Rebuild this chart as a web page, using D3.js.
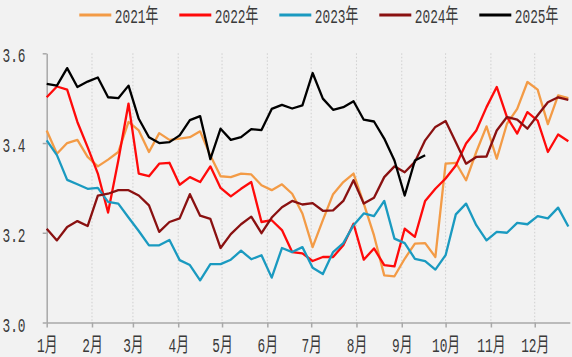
<!DOCTYPE html>
<html><head><meta charset="utf-8">
<script src="https://cdn.jsdelivr.net/npm/d3@7/dist/d3.min.js"></script>
<style>html,body{margin:0;padding:0;background:#f2f2f2;}svg{display:block;}</style>
</head><body>
<svg id="chart" width="572" height="357"></svg>
<script>
const seriesNames = ["2021年","2022年","2023年","2024年","2025年"];
const seriesColors = ["#F39B46","#FF0A0A","#1A9AC0","#8A1111","#000000"];
const monthLabels = ["1月","2月","3月","4月","5月","6月","7月","8月","9月","10月","11月","12月"];
const yTickValues = [3.0,3.2,3.4,3.6];

const v2021 = [3.428,3.376,3.400,3.407,3.369,3.348,3.363,3.380,3.447,3.428,3.380,3.422,3.407,3.410,3.413,3.426,3.372,3.326,3.324,3.332,3.330,3.306,3.295,3.308,3.287,3.243,3.168,3.228,3.286,3.313,3.332,3.265,3.194,3.105,3.103,3.142,3.176,3.177,3.146,3.354,3.356,3.317,3.380,3.437,3.365,3.443,3.476,3.536,3.519,3.442,3.506,3.500];
const v2022 = [3.502,3.526,3.519,3.447,3.391,3.332,3.245,3.361,3.488,3.332,3.326,3.354,3.356,3.307,3.324,3.313,3.348,3.300,3.281,3.298,3.313,3.224,3.228,3.206,3.157,3.154,3.137,3.146,3.146,3.172,3.220,3.140,3.165,3.128,3.125,3.209,3.191,3.271,3.298,3.321,3.350,3.399,3.428,3.480,3.525,3.458,3.421,3.469,3.450,3.380,3.419,3.404];
const v2023 = [3.406,3.373,3.318,3.308,3.298,3.300,3.269,3.265,3.234,3.204,3.172,3.172,3.184,3.139,3.128,3.094,3.130,3.130,3.140,3.160,3.141,3.150,3.100,3.166,3.157,3.168,3.122,3.108,3.157,3.177,3.217,3.243,3.237,3.271,3.187,3.177,3.142,3.137,3.118,3.150,3.241,3.265,3.217,3.183,3.202,3.200,3.222,3.219,3.237,3.232,3.256,3.214];
const v2024 = [3.209,3.183,3.213,3.226,3.215,3.283,3.287,3.295,3.295,3.283,3.261,3.202,3.224,3.232,3.286,3.238,3.231,3.166,3.197,3.219,3.236,3.199,3.234,3.257,3.271,3.263,3.266,3.249,3.250,3.271,3.317,3.265,3.278,3.324,3.348,3.335,3.358,3.406,3.436,3.449,3.402,3.354,3.369,3.370,3.428,3.458,3.452,3.432,3.462,3.491,3.502,3.496];
const v2025 = [3.532,3.528,3.567,3.525,3.537,3.546,3.502,3.500,3.528,3.454,3.413,3.400,3.402,3.417,3.451,3.460,3.364,3.432,3.407,3.413,3.431,3.429,3.476,3.485,3.477,3.484,3.556,3.499,3.474,3.480,3.493,3.452,3.448,3.410,3.361,3.283,3.361,3.373];
const allSeries = [v2021,v2022,v2023,v2024,v2025];

const svg = d3.select("#chart");
svg.append("rect").attr("width",572).attr("height",357).attr("fill","#f2f2f2");

const start = new Date(2023,0,1);
const end = new Date(2023,11,25);
const x = d3.scaleTime().domain([start,end]).range([46.7,569.8]);
const y = d3.scaleLinear().domain([3.0,3.6]).range([322.5,53.3]);
const weekDate = i => d3.timeDay.offset(start, 7*i);
const monthDates = d3.timeMonth.range(start, new Date(2023,11,2));

const FONT = "'Liberation Mono','Noto Sans CJK SC',monospace";
const SX = 0.64;

// grid
svg.append("g").selectAll("line").data(monthDates.slice(1)).join("line")
  .attr("x1",d=>x(d)).attr("x2",d=>x(d))
  .attr("y1",y(3.6)).attr("y2",y(3.0))
  .attr("stroke","#cfcfcf").attr("stroke-width",1).attr("stroke-dasharray","1.5,2");

// y axis
const yAxis = svg.append("g").attr("transform",`translate(${x(start)},0)`)
  .call(d3.axisLeft(y).tickValues(yTickValues).tickSize(4).tickSizeOuter(0).tickFormat(d3.format(".1f")));
// x axis
const xAxis = svg.append("g").attr("transform",`translate(0,${y(3.0)})`)
  .call(d3.axisBottom(x).tickValues(monthDates).tickSize(5).tickSizeOuter(0).tickFormat((d,i)=>monthLabels[i]));

[yAxis,xAxis].forEach(a=>{
  a.select(".domain").attr("stroke","#a8a8a8").attr("stroke-width",1.5);
  a.selectAll(".tick line").attr("stroke","#a8a8a8").attr("stroke-width",1.5);
  a.selectAll("text").attr("fill","#3a3a3a").style("font-family",FONT).style("font-size","20px");
});
yAxis.selectAll("text").attr("x",-21.2/SX).attr("y",8.5).attr("dy",null)
  .attr("text-anchor","end").attr("transform",`scale(${SX},1)`);
xAxis.selectAll("text").attr("x",0).attr("y",29.8).attr("dy",null)
  .attr("text-anchor","middle").attr("transform",`scale(${SX},1)`);

// lines
const line = d3.line().x((d,i)=>x(weekDate(i))).y(d=>y(d));
svg.append("defs").append("clipPath").attr("id","clip")
  .append("rect").attr("x",40).attr("y",0).attr("width",532).attr("height",357);
svg.append("g").attr("clip-path","url(#clip)").selectAll("path").data(allSeries).join("path")
  .attr("d",line).attr("fill","none")
  .attr("stroke",(d,i)=>seriesColors[i]).attr("stroke-width",2.3)
  .attr("stroke-linejoin","round");

// legend
const leg = svg.append("g").selectAll("g").data(seriesNames).join("g")
  .attr("transform",(d,i)=>`translate(${79.3+i*100},0)`);
leg.append("line").attr("x1",0).attr("x2",32).attr("y1",15).attr("y2",15)
  .attr("stroke",(d,i)=>seriesColors[i]).attr("stroke-width",3);
leg.append("text").attr("transform",`translate(35.5,22.8) scale(${SX},1)`)
  .attr("fill","#3a3a3a").style("font-family",FONT).style("font-size","20px")
  .text(d=>d);
</script>
</body></html>
